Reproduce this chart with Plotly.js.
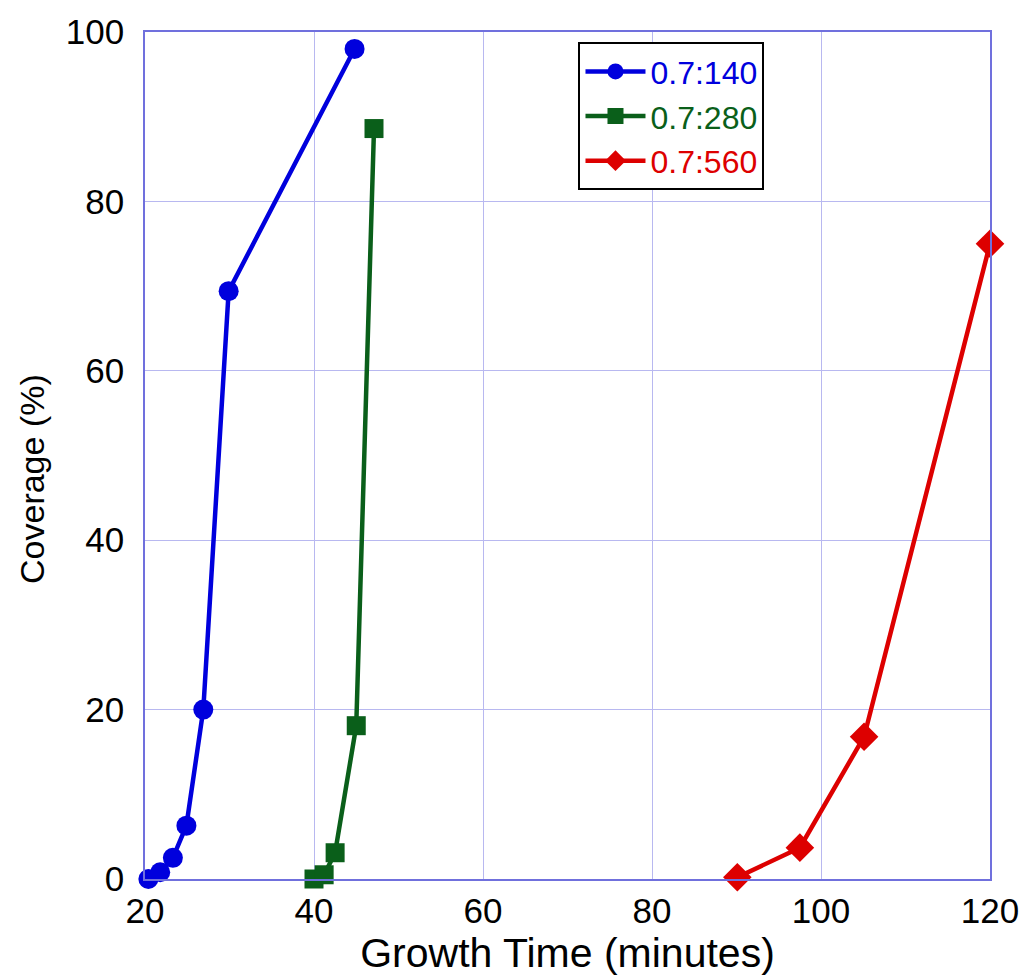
<!DOCTYPE html>
<html><head><meta charset="utf-8">
<script src="https://cdn.plot.ly/plotly-3.0.1.min.js"></script>
<style>body{margin:0;background:#fff}#c{width:1028px;height:978px}</style>
</head><body><div id="c"></div>
<script>
const names = ["0.7:140", "0.7:280", "0.7:560"];
const colors = ["#0000dd", "#0a5f1a", "#dd0000"];
const symbols = ["circle", "square", "diamond"];
const x140 = [20.4, 21.8, 23.3, 24.9, 26.9, 29.9, 44.8];
const y140 = [0, 0.8, 2.5, 6.3, 20, 69.4, 98];
const x280 = [40.0, 41.2, 42.5, 45.0, 47.1];
const y280 = [0, 0.5, 3.1, 18.1, 88.6];
const x560 = [90.1, 97.5, 105.1, 120];
const y560 = [0.2, 3.7, 16.8, 75];
const xs = [x140, x280, x560];
const ys = [y140, y280, y560];
const msize = [20, 19, 22];

const data = names.map((n, i) => ({
  x: xs[i], y: ys[i], type: "scatter", mode: "lines+markers",
  name: '<span style="color:' + colors[i] + '">' + n + '</span>',
  line: {color: colors[i], width: 4.5},
  marker: {color: colors[i], symbol: symbols[i], size: msize[i]},
  cliponaxis: false
}));

const ff = "Liberation Sans, Arial, sans-serif";
const layout = {
  width: 1028, height: 978,
  margin: {l: 145, r: 38, t: 32, b: 99},
  paper_bgcolor: "#fff", plot_bgcolor: "#fff",
  showlegend: true,
  legend: {x: 0.513, y: 0.988, xanchor: "left", yanchor: "top",
    bordercolor: "#000", borderwidth: 2, bgcolor: "#fff",
    font: {family: ff, size: 32}, itemwidth: 60, tracegroupgap: 0},
  xaxis: {range: [20, 120], dtick: 20, tick0: 20, showgrid: true, gridcolor: "#b8b8f0", gridwidth: 1,
    showline: true, linecolor: "#7070dd", linewidth: 1.5, mirror: true, zeroline: false,
    ticks: "", tickfont: {family: ff, size: 35, color: "#000"},
    title: {text: "Growth Time (minutes)", font: {family: ff, size: 41, color: "#000"}, standoff: 0}},
  yaxis: {range: [0, 100], dtick: 20, showgrid: true, gridcolor: "#b8b8f0", gridwidth: 1,
    showline: true, linecolor: "#7070dd", linewidth: 1.5, mirror: true, zeroline: false,
    ticks: "", ticklabelstandoff: 12, tickfont: {family: ff, size: 35, color: "#000"}},
  annotations: [{text: "Coverage (%)", textangle: -90, xref: "paper", yref: "paper",
    x: -0.134, y: 0.472, xanchor: "center", yanchor: "middle", showarrow: false,
    font: {family: ff, size: 34, color: "#000"}}]
};
Plotly.newPlot("c", data, layout, {displayModeBar: false});
</script></body></html>
